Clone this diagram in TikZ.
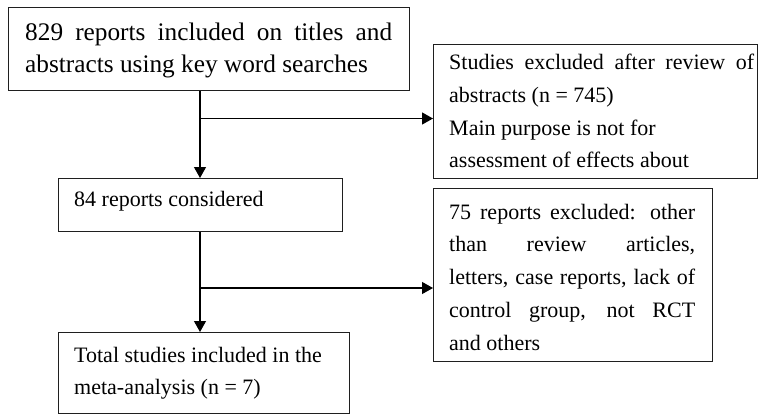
\documentclass[tikz,border=0pt]{standalone}
\usepackage{fontspec}
\setmainfont{Liberation Serif}
\usetikzlibrary{arrows.meta}
\tikzset{
  boxframe/.style={draw=black!88, line width=1.2pt, inner sep=0pt, anchor=north west},
  boxtext/.style={anchor=base west, inner sep=0pt, align=left, font=\fontsize{22}{32.8}\selectfont},
  bigtext/.style={anchor=base west, inner sep=0pt, align=left, font=\fontsize{25.3}{32.8}\selectfont},
  conn/.style={draw=black, line width=1.2pt},
  arr/.style={conn, -{Triangle[length=11pt,width=12pt]}}
}
\begin{document}
\begin{tikzpicture}[x=1pt,y=-1pt]
\useasboundingbox (0,0) rectangle (758,415);
% boxes
\node[boxframe, minimum width=401pt, minimum height=83pt] (b1) at (8,7) {};
\node[boxframe, minimum width=284pt, minimum height=53pt] (b2) at (58,178) {};
\node[boxframe, minimum width=324pt, minimum height=134pt] (bA) at (433,44) {};
\node[boxframe, minimum width=279pt, minimum height=173pt] (bB) at (433,188) {};
\node[boxframe, minimum width=291pt, minimum height=81pt] (b3) at (58,332) {};
% texts (anchored at the baseline of their last line)
\node[bigtext] (t1) at (25,72.8) {\makebox[367pt][s]{829 reports included on titles and}\\abstracts using key word searches};
\node[boxtext] (t2) at (74,206.5) {84 reports considered};
\node[boxtext] (tA) at (449,167.9) {\makebox[305pt][s]{Studies excluded after review of}\\abstracts (n = 745)\\Main purpose is not for\\assessment of effects about};
\node[boxtext] (tB) at (449,350.2) {\makebox[246pt][s]{75 reports excluded: other}\\\makebox[246pt][s]{than review articles,}\\\makebox[246pt][s]{letters, case reports, lack of}\\\makebox[246pt][s]{control group, not RCT}\\and others};
\node[boxtext] (t3) at (74,394.8) {Total studies included in the\\meta-analysis (n = 7)};
% connectors
\coordinate (j1) at (200,118.5);
\coordinate (j2) at (200,288);
\draw[arr] (j1 |- b1.south) -- (j1 |- b2.north);
\draw[arr] (j1) -- (j1 -| bA.west);
\draw[arr] (j2 |- b2.south) -- (j2 |- b3.north);
\draw[arr] (j2) -- (j2 -| bB.west);
\end{tikzpicture}
\end{document}
